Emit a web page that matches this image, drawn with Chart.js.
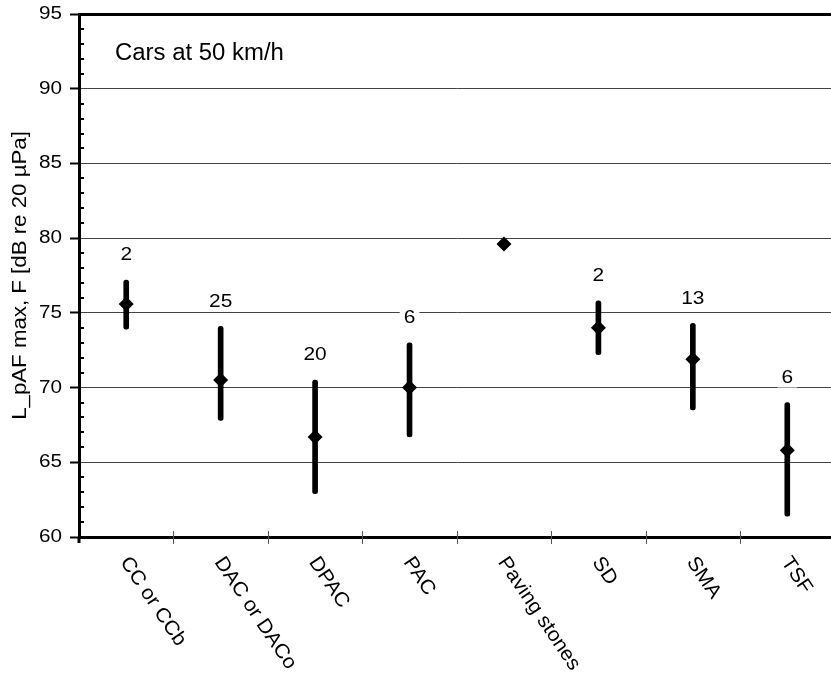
<!DOCTYPE html>
<html>
<head>
<meta charset="utf-8">
<script src="https://cdn.jsdelivr.net/npm/chart.js@4/dist/chart.umd.min.js"></script>
<style>
  body { margin: 0; background: #fff; overflow: hidden; }
  canvas { display: block; }
</style>
</head>
<body>
<canvas id="levels" width="842" height="675"></canvas>
<script>
// road surface types and the pass-by levels
var surfaces = ["CC or CCb", "DAC or DACo", "DPAC", "PAC", "Paving stones", "SD", "SMA", "TSF"];
var meanLevel = [75.6, 70.5, 66.7, 70.0, 79.6, 74.0, 71.9, 65.8];
var minLevel = [73.9, 67.8, 62.9, 66.7, null, 72.2, 68.5, 61.4];
var maxLevel = [77.2, 74.1, 70.5, 73.0, null, 75.8, 74.3, 69.0];
var siteCount = [2, 25, 20, 6, null, 2, 13, 6];
var yTicks = [60, 65, 70, 75, 80, 85, 90, 95];
var panelNote = "Cars at 50 km/h";
var yTitle = "L_pAF max, F [dB re 20 \u00b5Pa]";

// the original text is a slightly wide sans, so Arial metrics get stretched a bit
var face = "'Liberation Sans', Arial, sans-serif";
var labelAngle = 56;

function wide_text(ctx, text, x, y, angle, align, size, stretch) {
  ctx.save();
  ctx.font = size + "px " + face;
  ctx.translate(x, y);
  ctx.rotate(angle);
  ctx.scale(stretch, 1);
  ctx.textAlign = align;
  ctx.textBaseline = "middle";
  ctx.fillText(text, 0, 0);
  ctx.restore();
}

var extras = {
  id: "extras",
  afterDatasetsDraw: function (chart) {
    // number of sites above each range bar
    var ctx = chart.ctx;
    var xs = chart.scales.x;
    var ys = chart.scales.y;
    ctx.save();
    ctx.font = "19px " + face;
    siteCount.forEach(function (n, i) {
      if (n === null) return;
      var px = xs.getPixelForValue(i);
      var py = ys.getPixelForValue(maxLevel[i]) - 25;
      var w = ctx.measureText(String(n)).width * 1.1 + 8;
      ctx.fillStyle = "#fff";
      ctx.fillRect(px - w / 2, py - 10, w, 20);
      ctx.fillStyle = "#000";
      wide_text(ctx, String(n), px, py, 0, "center", 19, 1.1);
    });
    ctx.restore();
  },
  afterDraw: function (chart) {
    var ctx = chart.ctx;
    var xs = chart.scales.x;
    var ys = chart.scales.y;
    var area = chart.chartArea;
    ctx.save();

    // minor ticks inside the y axis
    ctx.strokeStyle = "#000";
    ctx.lineWidth = 2;
    for (var v = yTicks[0] + 1; v < yTicks[yTicks.length - 1]; v++) {
      if (v % 5 === 0) continue;
      var py = Math.round(ys.getPixelForValue(v));
      ctx.beginPath();
      ctx.moveTo(area.left, py);
      ctx.lineTo(area.left + 5, py);
      ctx.stroke();
    }

    // category separators across the x axis
    ctx.strokeStyle = "#555";
    ctx.lineWidth = 1;
    for (var i = 1; i < surfaces.length; i++) {
      var bx = Math.round(xs.getPixelForValue(i - 0.5)) + 0.5;
      ctx.beginPath();
      ctx.moveTo(bx, area.bottom - 6);
      ctx.lineTo(bx, area.bottom + 7);
      ctx.stroke();
    }
    ctx.strokeStyle = "#000";
    ctx.lineWidth = 3;
    ctx.beginPath();
    ctx.moveTo(area.left, area.bottom);
    ctx.lineTo(area.left, area.bottom + 6);
    ctx.stroke();

    ctx.fillStyle = "#000";

    // y tick labels
    yTicks.forEach(function (t) {
      wide_text(ctx, String(t), area.left - 17, ys.getPixelForValue(t), 0, "right", 18, 1.15);
    });

    // y axis title
    wide_text(ctx, yTitle, 20, (area.top + area.bottom) / 2, -Math.PI / 2, "center", 21, 1.06);

    // slanted category names
    surfaces.forEach(function (name, i) {
      var px = xs.getPixelForValue(i);
      wide_text(ctx, name, px - 2, area.bottom + 22, labelAngle * Math.PI / 180, "left", 20, 1.05);
    });

    // note in the top left corner
    wide_text(ctx, panelNote, area.left + 36, area.top + 40, 0, "left", 23, 1.04);
    ctx.restore();
  }
};

function level_chart() {
  var ranges = minLevel.map(function (lo, i) {
    return lo === null ? null : [lo, maxLevel[i]];
  });
  var config = {
    type: "bar",
    data: {
      labels: surfaces,
      datasets: [
        {
          type: "line",
          label: "Mean",
          data: meanLevel,
          showLine: false,
          pointStyle: "rectRot",
          pointRadius: 7.5,
          pointHoverRadius: 7.5,
          pointBorderWidth: 0,
          pointBackgroundColor: "#000",
          borderColor: "#000",
          order: 0,
        },
        {
          label: "Range",
          data: ranges,
          backgroundColor: "#000",
          barThickness: 5,
          borderRadius: 3,
          borderSkipped: false,
          order: 1,
        },
      ],
    },
    options: {
      responsive: false,
      animation: false,
      layout: { padding: { top: 14, left: 0, right: 2, bottom: 0 } },
      plugins: {
        legend: { display: false },
        tooltip: { enabled: false },
      },
      scales: {
        x: {
          offset: true,
          grid: { display: false },
          border: { display: true, color: "#000", width: 3 },
          ticks: { display: false },
          afterFit: function (scale) {
            scale.height = 138;
          },
        },
        y: {
          min: yTicks[0],
          max: yTicks[yTicks.length - 1],
          ticks: { stepSize: 5, display: false },
          grid: {
            color: function (c) {
              if (c.tick.value === yTicks[0]) return "rgba(0,0,0,0)";
              return c.tick.value === yTicks[yTicks.length - 1] ? "#000" : "#444";
            },
            lineWidth: function (c) {
              return c.tick.value === yTicks[yTicks.length - 1] ? 3 : 1;
            },
            tickColor: "#000",
            tickWidth: 2,
            tickLength: 9,
          },
          border: { display: true, color: "#000", width: 3 },
          afterFit: function (scale) {
            scale.width = 79;
          },
        },
      },
    },
    plugins: [extras],
  };
  var canvas = document.getElementById("levels");
  if (canvas.chart) {
    canvas.chart.destroy();
  }
  canvas.chart = new Chart(canvas.getContext("2d"), config);
}

level_chart();
</script>
</body>
</html>
